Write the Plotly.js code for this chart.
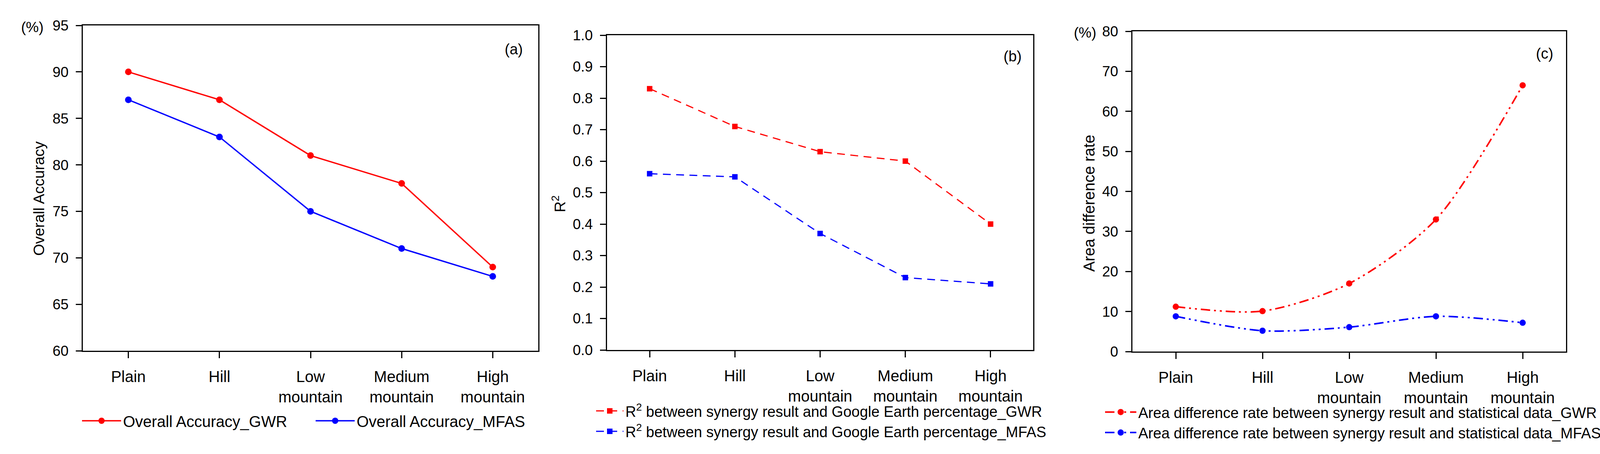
<!DOCTYPE html>
<html>
<head>
<meta charset="utf-8">
<script src="https://cdn.plot.ly/plotly-3.0.1.min.js"></script>
<style>html,body{margin:0;padding:0;background:#fff;}#chart{width:4183px;height:1161px;}</style>
</head>
<body>
<div id="chart"></div>
<script>
// ---- data ----
const categories = ["Plain", "Hill", "Low<br>mountain", "Medium<br>mountain", "High<br>mountain"];
const oaGWR  = [90, 87, 81, 78, 69];
const oaMFAS = [87, 83, 75, 71, 68];
const r2GWR  = [0.83, 0.71, 0.63, 0.60, 0.40];
const r2MFAS = [0.56, 0.55, 0.37, 0.23, 0.21];
const adGWR  = [11.2, 10.1, 17.0, 33.0, 66.5];
const adMFAS = [8.8, 5.2, 6.1, 8.8, 7.2];
const namesA = ["Overall Accuracy_GWR", "Overall Accuracy_MFAS"];
const namesB = ["R<sup>2</sup> between synergy result and Google Earth percentage_GWR",
                "R<sup>2</sup> between synergy result and Google Earth percentage_MFAS"];
const namesC = ["Area difference rate between synergy result and statistical data_GWR",
                "Area difference rate between synergy result and statistical data_MFAS"];
const yTitles = ["Overall Accuracy", "R<sup>2</sup>", "Area difference rate"];

const W = 4183, H = 1161;
const FONT = 'Arial, "Liberation Sans", sans-serif';
const RED = '#FF0000', BLUE = '#0000FF';
const px = v => v / W;
const py = v => 1 - v / H;

const DASH_B = '20px,14px';
const DASH_C = '24px,10px,5px,10px,5px,10px';

const traces = [
  {x: categories, y: oaGWR, name: namesA[0], xaxis: 'x', yaxis: 'y', legend: 'legend',
   mode: 'lines+markers', line: {color: RED, width: 3.5}, marker: {color: RED, size: 17, symbol: 'circle'}},
  {x: categories, y: oaMFAS, name: namesA[1], xaxis: 'x', yaxis: 'y', legend: 'legend',
   mode: 'lines+markers', line: {color: BLUE, width: 3.5}, marker: {color: BLUE, size: 17, symbol: 'circle'}},
  {x: categories, y: r2GWR, name: namesB[0], xaxis: 'x2', yaxis: 'y2', legend: 'legend2',
   mode: 'lines+markers', line: {color: RED, width: 3, dash: DASH_B}, marker: {color: RED, size: 14, symbol: 'square'}},
  {x: categories, y: r2MFAS, name: namesB[1], xaxis: 'x2', yaxis: 'y2', legend: 'legend2',
   mode: 'lines+markers', line: {color: BLUE, width: 3, dash: DASH_B}, marker: {color: BLUE, size: 14, symbol: 'square'}},
  {x: categories, y: adGWR, name: namesC[0], xaxis: 'x3', yaxis: 'y3', legend: 'legend3',
   mode: 'lines+markers', line: {color: RED, width: 4, dash: DASH_C, shape: 'spline', smoothing: 0.8},
   marker: {color: RED, size: 16, symbol: 'circle'}},
  {x: categories, y: adMFAS, name: namesC[1], xaxis: 'x3', yaxis: 'y3', legend: 'legend3',
   mode: 'lines+markers', line: {color: BLUE, width: 4, dash: DASH_C, shape: 'spline', smoothing: 0.8},
   marker: {color: BLUE, size: 16, symbol: 'circle'}}
];

function xAx(d0, d1, anchor) {
  return {domain: [px(d0), px(d1)], anchor: anchor, type: 'category', range: [-0.5, 4.5],
    showline: true, linecolor: '#000', linewidth: 3, mirror: true,
    ticks: 'outside', ticklen: 16, tickwidth: 3, tickcolor: '#000',
    showgrid: false, zeroline: false, ticklabelstandoff: 13,
    tickfont: {family: FONT, size: 40, color: '#000'}, fixedrange: true};
}
function yAx(t0, t1, anchor, range, dtick, fmt) {
  return {domain: [py(t1), py(t0)], anchor: anchor, range: range, dtick: dtick, tick0: range[0],
    tickformat: fmt, showline: true, linecolor: '#000', linewidth: 3, mirror: true,
    ticks: 'outside', ticklen: 15, tickwidth: 3, tickcolor: '#000',
    showgrid: false, zeroline: false, ticklabelstandoff: 11,
    tickfont: {family: FONT, size: 37, color: '#000'}, fixedrange: true};
}
function note(text, x, y, size, angle) {
  return {text: text, x: px(x), y: py(y), xref: 'paper', yref: 'paper', showarrow: false,
          xanchor: 'center', yanchor: 'middle', textangle: angle || 0,
          font: {family: FONT, size: size, color: '#000'}};
}

const noBg = 'rgba(0,0,0,0)';
const layout = {
  width: W, height: H, margin: {l: 0, r: 0, t: 0, b: 0},
  paper_bgcolor: '#fff', plot_bgcolor: '#fff', showlegend: true,
  font: {family: FONT, color: '#000'},
  xaxis: xAx(212, 1378, 'y'),
  yaxis: yAx(65, 897, 'x', [60, 95], 5, 'd'),
  xaxis2: xAx(1554, 2645, 'y2'),
  yaxis2: yAx(90, 895, 'x2', [0, 1], 0.1, '.1f'),
  xaxis3: xAx(2899, 4009, 'y3'),
  yaxis3: yAx(80, 899, 'x3', [0, 80], 10, 'd'),
  legend: {x: px(205), y: py(1076), xanchor: 'left', yanchor: 'middle', orientation: 'h',
           entrywidth: 483, entrywidthmode: 'pixels', itemwidth: 100,
           font: {family: FONT, size: 40, color: '#000'}, bgcolor: noBg},
  legend2: {x: px(1521), y: py(1077), xanchor: 'left', yanchor: 'middle', orientation: 'v',
            itemwidth: 70, font: {family: FONT, size: 38, color: '#000'}, bgcolor: noBg},
  legend3: {x: px(2824), y: py(1080), xanchor: 'left', yanchor: 'middle', orientation: 'v',
            itemwidth: 80, font: {family: FONT, size: 38, color: '#000'}, bgcolor: noBg},
  annotations: [
    note(yTitles[0], 99, 508, 39, -90),
    note(yTitles[1], 1430, 522, 39, -90),
    note(yTitles[2], 2788, 520, 40, -90),
    note('(%)', 83, 70, 37),
    note('(%)', 2778, 84, 37),
    note('(a)', 1315, 126, 38),
    note('(b)', 2592, 144, 38),
    note('(c)', 3954, 137, 38)
  ]
};

Plotly.newPlot('chart', traces, layout, {staticPlot: true, displayModeBar: false});
</script>
</body>
</html>
